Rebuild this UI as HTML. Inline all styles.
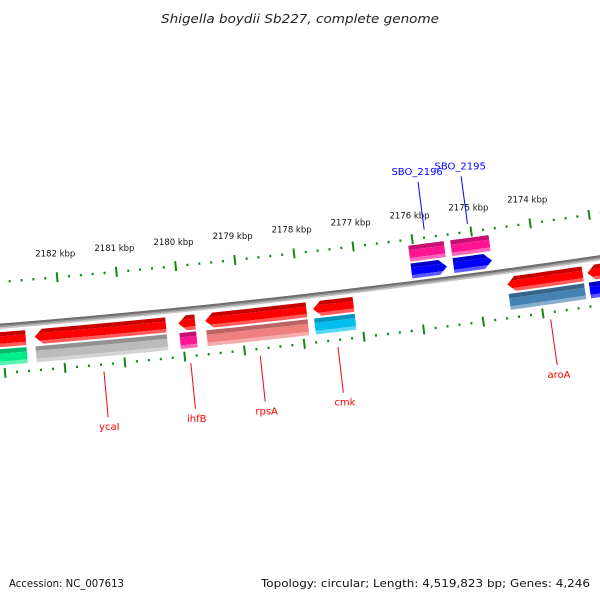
<!DOCTYPE html>
<html><head><meta charset="utf-8"><style>
html,body{margin:0;padding:0;background:#fff;}
svg{display:block;font-family:"DejaVu Sans","Liberation Sans",sans-serif;}
</style></head><body>
<svg id="map" width="600" height="600" viewBox="0 0 600 600">
<text x="161" y="23" textLength="278" lengthAdjust="spacingAndGlyphs" font-size="12" font-style="italic" fill="#222">Shigella boydii Sb227, complete genome</text>
<g id="layer"></g>
<text x="9" y="587" textLength="115" lengthAdjust="spacingAndGlyphs" font-size="11" fill="#111">Accession: NC_007613</text>
<text x="261" y="587" textLength="329" lengthAdjust="spacingAndGlyphs" font-size="11" fill="#111">Topology: circular; Length: 4,519,823 bp; Genes: 4,246</text>
</svg>
<script>
// gene data (kbp)
const geneNames = ["left-gene","ycaI","ihfB","rpsA","cmk","SBO_2196","SBO_2195","aroA","right-gene"];
const geneStart = [2183.3,2182.46,2180.05,2179.60,2177.79,2176.08,2175.37,2174.52,2173.17];
const geneEnd   = [2182.61,2180.26,2179.77,2177.90,2177.11,2175.48,2174.72,2173.25,2172.3];
const geneStrand = [-1,-1,-1,-1,-1,1,1,-1,-1];
const geneColor2 = ["#00ee8a","#bbbbbb","#ff1493","#f08080","#00bff0","#0000ff","#0000ff","#4682b4","#0000ff"];
const geneLabeled = [false,true,true,true,true,true,true,true,false];
const tickKbp = [2184,2183,2182,2181,2180,2179,2178,2177,2176,2175,2174,2173,2172];
const tickLabelKbp = [2182,2181,2180,2179,2178,2177,2176,2175,2174];

const NS="http://www.w3.org/2000/svg";
const layer=document.getElementById('layer');
const CX=-720, CY=-8645, R=9000, A0=0.08688, K=0.006646;
function ang(k){return A0+(2182-k)*K;}
function P(k,off){const a=ang(k),r=R+off;return [CX+r*Math.sin(a),CY+r*Math.cos(a)];}
function mk(tag,attrs){const e=document.createElementNS(NS,tag);for(const k in attrs)e.setAttribute(k,attrs[k]);return e;}
function arcPts(k1,k2,off,n){const pts=[];for(let i=0;i<=n;i++){pts.push(P(k1+(k2-k1)*i/n,off));}return pts;}
function ptsStr(p){return p.map(q=>q[0].toFixed(2)+','+q[1].toFixed(2)).join(' ');}

function band(off,w,col,name){
  const l=mk('polyline',{points:ptsStr(arcPts(2184,2172,off,60)),fill:'none',stroke:col,'stroke-width':w});
  
  
  layer.appendChild(l);
}
band(0,5,'#999','backbone');
band(-1.5,2,'#6e6e6e','backbone-shadow');
band(1.8,1.5,'#c4c4c4','backbone-highlight');

function ruler(off,name,labels){
  const g=mk('g',{});
  
  
  for(let i=0;i<tickKbp.length-1;i++){
    for(let j=0;j<5;j++){
      const k=tickKbp[i]-j*(tickKbp[i]-tickKbp[i+1])/5;
      const len=j===0?5:1.2;
      const a=P(k,off-len),b=P(k,off+len);
      const t=mk('line',{x1:a[0],y1:a[1],x2:b[0],y2:b[1],stroke:'#138a13','stroke-width':2});
      
      
      g.appendChild(t);
    }
  }
  if(labels){
    tickLabelKbp.forEach(k=>{
      const p=P(k,off-21);
      const tx=mk('text',{x:p[0],y:p[1],'font-size':8.5,'text-anchor':'middle',fill:'#111'});
      tx.textContent=k+' kbp';
      
      
      g.appendChild(tx);
    });
  }
  layer.appendChild(g);
}
ruler(-44,'outer-ruler',true);
ruler(47,'inner-ruler',false);

function lighten(c,f){const n=parseInt(c.slice(1),16);let r=n>>16,g=(n>>8)&255,b=n&255;
  if(f>0){r+=(255-r)*f;g+=(255-g)*f;b+=(255-b)*f;}else{r*=1+f;g*=1+f;b*=1+f;}
  return 'rgb('+Math.round(r)+','+Math.round(g)+','+Math.round(b)+')';}
function feature(k1,k2,o1,o2,col,arrowDir,name){
  const g=mk('g',{});
  
  
  const h=o2-o1, mid=(o1+o2)/2, headK=0.13;
  const bands=[[o1,o1+h*0.28,lighten(col,-0.22)],[o1+h*0.28,o2-h*0.22,col],[o2-h*0.22,o2,lighten(col,0.35)]];
  function ek(off,side){const end=side<0?k1:k2;if(arrowDir!==side)return end;const d=Math.abs(off-mid)/(h/2);return side<0?end-headK*d:end+headK*d;}
  bands.forEach(([b1,b2,c])=>{
    const offs=[b1];if(arrowDir!==0&&b1<mid&&b2>mid)offs.push(mid);offs.push(b2);
    const pts=[];
    pts.push(...arcPts(ek(b1,-1),ek(b1,1),b1,8));
    for(let i=1;i<offs.length;i++)pts.push(P(ek(offs[i],1),offs[i]));
    pts.push(...arcPts(ek(b2,1),ek(b2,-1),b2,8).slice(1));
    for(let i=offs.length-2;i>=0;i--)pts.push(P(ek(offs[i],-1),offs[i]));
    const pg=mk('polygon',{points:ptsStr(pts),fill:c});
    
    
    g.appendChild(pg);
  });
  layer.appendChild(g);
}

for(let i=0;i<geneNames.length;i++){
  const s=geneStart[i],e=geneEnd[i];
  if(geneStrand[i]<0){
    feature(s,e,6,21,'#ff0000',-1,geneNames[i]+'-gene');
    feature(s,e,23,39,geneColor2[i],0,geneNames[i]+'-orf');
  }else{
    feature(s,e,-38,-22,'#ff1493',0,geneNames[i]+'-orf');
    feature(s,e,-20,-5,'#0000ff',1,geneNames[i]+'-gene');
  }
  if(geneLabeled[i]){
    const m=(s+e)/2, col=geneStrand[i]<0?'#ff0000':'#0000ff';
    const a=geneStrand[i]<0?P(m,54):P(m,-52), b=geneStrand[i]<0?P(m,100):P(m,-100);
    const ln=mk('line',{x1:a[0],y1:a[1],x2:b[0],y2:b[1],stroke:col,'stroke-width':1});
    
    
    layer.appendChild(ln);
    const tp=geneStrand[i]<0?P(m,113):P(m,-107);
    const tx=mk('text',{x:tp[0],y:tp[1],'font-size':10,'text-anchor':'middle',fill:col});
    tx.textContent=geneNames[i];
    
    
    layer.appendChild(tx);
  }
}
</script>
</body></html>
